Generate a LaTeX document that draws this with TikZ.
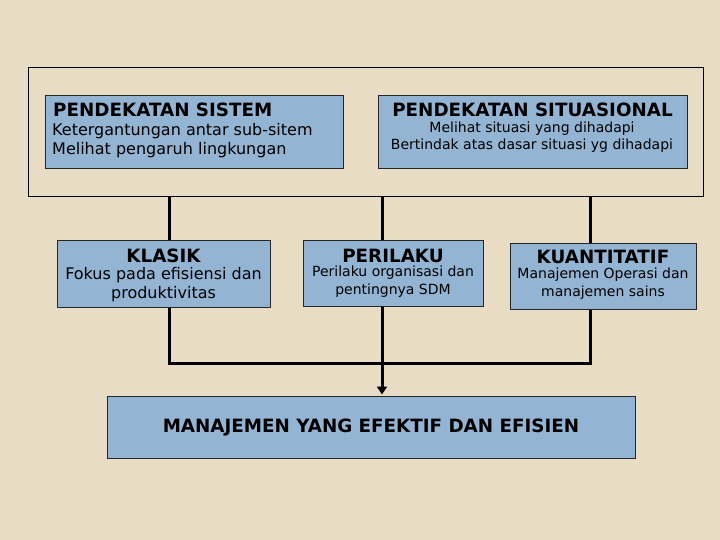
\documentclass[tikz,border=0pt]{standalone}
\usepackage{fontspec}
\setmainfont{DejaVu Sans}
\usetikzlibrary{arrows.meta}
\definecolor{bg}{HTML}{E8DCC4}
\definecolor{boxblue}{HTML}{94B4D4}
\begin{document}
\begin{tikzpicture}[x=1pt,y=-1pt,
  box/.style={draw=black!85, line width=0.8pt, fill=boxblue, inner sep=0pt, anchor=north west},
  conn/.style={line width=3pt, line cap=rect, line join=miter},
  ttl/.style={font=\bfseries\fontsize{18.3}{20}\selectfont, inner sep=0pt},
  txt/.style={font=\fontsize{16}{18}\selectfont, inner sep=0pt},
  sml/.style={font=\fontsize{14}{16}\selectfont, inner sep=0pt}]
\fill[bg] (0,0) rectangle (720,540);
\useasboundingbox (0,0) rectangle (720,540);
% outer container
\node[draw=black, line width=0.8pt, fill=bg, inner sep=0pt, anchor=north west,
      minimum width=675pt, minimum height=129pt] (outer) at (28,67) {};
% top boxes
\node[box, minimum width=298pt, minimum height=73pt] (sistem) at (45,95) {};
\node[box, minimum width=309pt, minimum height=73pt] (situ) at (378,95) {};
\node[ttl, anchor=west] (t1) at (53,110) {PENDEKATAN SISTEM};
\node[txt, anchor=west] (t1a) at (52,131) {Ketergantungan antar sub-sitem};
\node[txt, anchor=west] (t1b) at (52,150) {Melihat pengaruh lingkungan};
\node[ttl] (t2) at (532.5,110) {PENDEKATAN SITUASIONAL};
\node[sml] (t2a) at (532,129) {Melihat situasi yang dihadapi};
\node[sml] (t2b) at (532,146) {Bertindak atas dasar situasi yg dihadapi};
% middle boxes
\node[box, minimum width=213pt, minimum height=67pt] (klasik) at (57,240) {};
\node[box, minimum width=180pt, minimum height=66pt] (perilaku) at (303,240) {};
\node[box, minimum width=186pt, minimum height=66pt] (kuant) at (510,243) {};
\node[ttl] (k1) at (163.5,256) {KLASIK};
\node[txt] (k2) at (163.5,275) {Fokus pada efisiensi dan};
\node[txt] (k3) at (163.5,294) {produktivitas};
\node[ttl] (p1) at (393,256) {PERILAKU};
\node[sml] (p2) at (393,273) {Perilaku organisasi dan};
\node[sml] (p3) at (393,291) {pentingnya SDM};
\node[ttl] (q1) at (603,257) {KUANTITATIF};
\node[sml] (q2) at (603,275) {Manajemen Operasi dan};
\node[sml] (q3) at (603,293) {manajemen sains};
% bottom box
\node[box, minimum width=528pt, minimum height=62pt] (hasil) at (107,396) {};
\node[ttl] (h1) at (371,428) {MANAJEMEN YANG EFEKTIF DAN EFISIEN};
% connector x positions
\coordinate (cA) at (169,0);
\coordinate (cB) at (382,0);
\coordinate (cC) at (590,0);
\coordinate (join) at (382,363);
\draw[conn, line cap=butt] (outer.south -| cA) -- (klasik.north -| cA);
\draw[conn, line cap=butt] (outer.south -| cB) -- (perilaku.north -| cB);
\draw[conn, line cap=butt] (outer.south -| cC) -- (kuant.north -| cC);
\draw[conn, line cap=butt] (klasik.south -| cA) |- (join) -| (kuant.south -| cC);
\draw[line width=3pt, -{Triangle[width=10pt,length=8pt]}, shorten >=1.5pt] (perilaku.south -| cB) -- (hasil.north -| cB);
\end{tikzpicture}
\end{document}
